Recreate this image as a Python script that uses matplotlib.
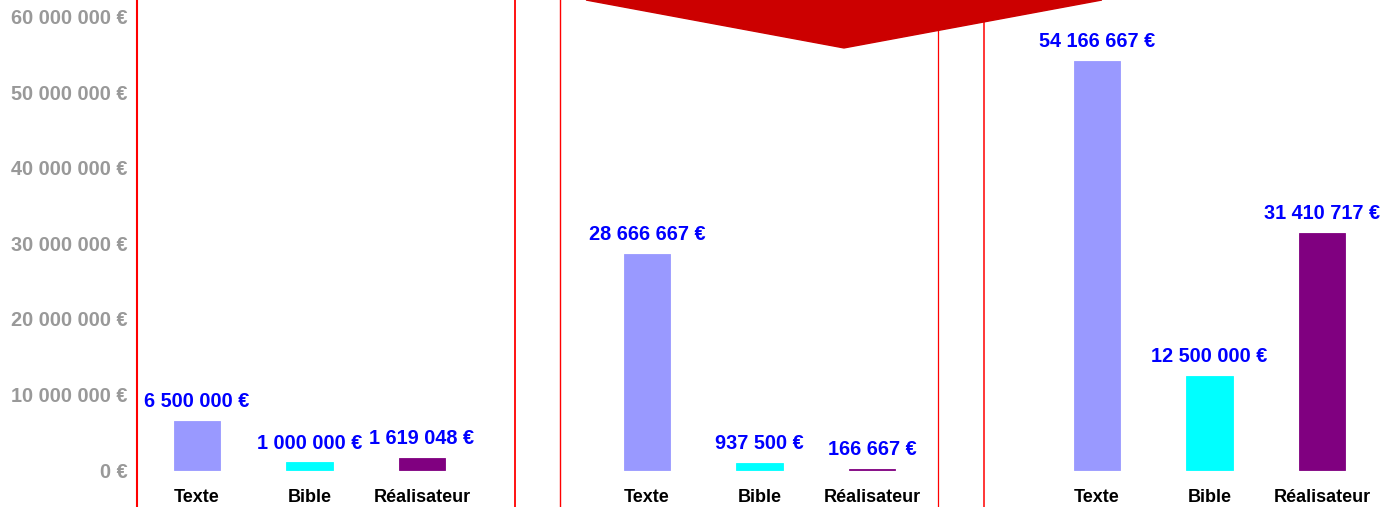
import numpy as np
from matplotlib import pyplot as plt
from matplotlib.patches import Polygon

plt.rc('font', family=['Liberation Sans', 'DejaVu Sans'], weight='bold', size=14.3)

categories = ['Texte', 'Bible', 'Réalisateur']
group1 = [6500000, 1000000, 1619048]
group2 = [28666667, 937500, 166667]
group3 = [54166667, 12500000, 31410717]
yticks = [0, 10000000, 20000000, 30000000, 40000000, 50000000, 60000000]
colors = ['#9999FF', '#00FFFF', '#800080']

def euro(v):
	return '{:,} €'.format(v).replace(',', ' ')

fig = plt.figure(figsize=(13.94, 5.07), dpi=100)
ax = fig.add_axes([137 / 1394, 0, 1 - 137 / 1394, 1])

for g, vals in enumerate([group1, group2, group3]):
	x = g * 4 + np.arange(3)
	ax.bar(x, vals, width=0.41, color=colors, edgecolor=colors, lw=0.6, zorder=2)
	for xi, v, c in zip(x, vals, categories):
		ax.annotate(euro(v), (xi, v), xytext=(0, 13.8), textcoords='offset points',
					ha='center', va='center', color='#0000FF', zorder=4)
		ax.text(xi, -3.58e6, c, ha='center', va='center', color='black', fontsize=13)

# separators
for xs, lw in [(2.827, 1.3), (3.227, 1.0), (6.587, 0.9), (6.996, 1.1)]:
	ax.axvline(xs, color='#FF0000', lw=lw, zorder=1)

# big arrow tip at the top
ax.add_patch(Polygon([(3.458, 62.25e6), (8.044, 62.25e6), (5.751, 55.9e6)],
					 closed=True, color='#CC0000', zorder=3))

ax.set_xlim(-0.533, 10.64)
ax.set_ylim(-4.9e6, 62.25e6)
ax.set_yticks(yticks)
ax.set_yticklabels([euro(v) for v in yticks], color='#999999')
ax.set_xticks([])
ax.tick_params(axis='y', length=0, pad=6.5)
for s in ['top', 'right', 'bottom']:
	ax.spines[s].set_visible(False)
ax.spines['left'].set_color('#FF0000')
ax.spines['left'].set_linewidth(1.5)

plt.savefig('out.png', dpi=100)
